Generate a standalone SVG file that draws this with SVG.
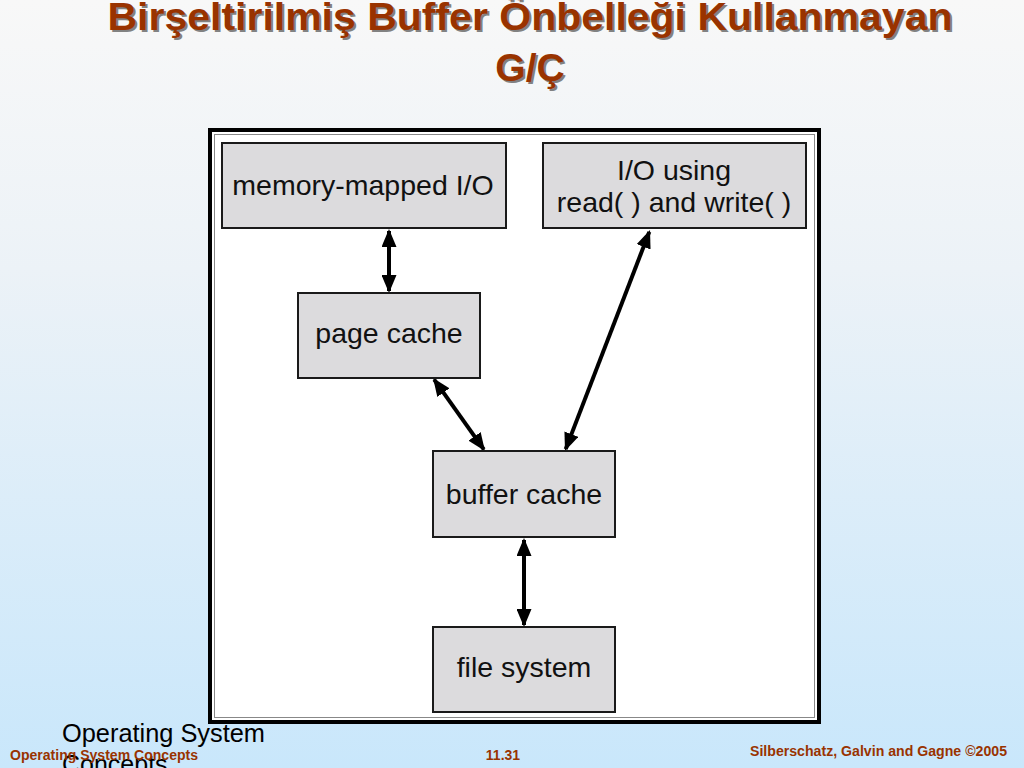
<svg xmlns="http://www.w3.org/2000/svg" width="1024" height="768" viewBox="0 0 1024 768">
<defs>
<linearGradient id="bg" x1="0" y1="0" x2="0" y2="1">
<stop offset="0" stop-color="#f8f8f8"/>
<stop offset="0.35" stop-color="#ecf2f7"/>
<stop offset="1" stop-color="#c9e7fb"/>
</linearGradient>
<marker id="ah" viewBox="0 0 18 15" refX="16" refY="7.5" markerWidth="18" markerHeight="15" markerUnits="userSpaceOnUse" orient="auto-start-reverse">
<path d="M0,0 L18,7.5 L0,15 z" fill="#000"/>
</marker>
</defs>
<style>
.title{font-family:"Liberation Sans",Arial,sans-serif;font-weight:bold;font-size:39px;fill:#993300;text-anchor:middle}
.shadow{fill:#444;opacity:0.65}
.box{fill:#dcdbdd;stroke:#1a1a1a;stroke-width:2}
.lbl{font-family:"Liberation Sans",Arial,sans-serif;font-size:28.5px;fill:#111;text-anchor:middle}
.conn{stroke:#000;stroke-width:4;fill:none;marker-start:url(#ah);marker-end:url(#ah)}
.foot{font-family:"Liberation Sans",Arial,sans-serif;font-weight:bold;font-size:14px;fill:#993300}
.ph{font-family:"Liberation Sans",Arial,sans-serif;font-size:25px;fill:#000}
</style>
<rect x="0" y="0" width="1024" height="768" fill="url(#bg)"/>
<g id="title">
<text class="title shadow" x="532" y="32" textLength="845" lengthAdjust="spacingAndGlyphs">Birşeltirilmiş Buffer Önbelleği Kullanmayan</text>
<text class="title shadow" x="532" y="83">G/Ç</text>
<text class="title" x="530" y="30" textLength="845" lengthAdjust="spacingAndGlyphs">Birşeltirilmiş Buffer Önbelleği Kullanmayan</text>
<text class="title" x="530" y="81">G/Ç</text>
</g>
<g id="frame">
<rect x="210" y="130" width="609" height="592" fill="#fff" stroke="#000" stroke-width="4"/>
<rect x="214.5" y="134.5" width="600" height="583" fill="#fff" stroke="#888" stroke-width="1"/>
</g>
<g id="connectors">
<path class="conn" d="M389,231 L389,291"/>
<path class="conn" d="M434.2,379.6 L483.8,449.4"/>
<path class="conn" d="M649.3,231.9 L565.7,449.1"/>
<path class="conn" d="M524,540 L524,625"/>
</g>
<g id="memory-mapped">
<rect class="box" x="222" y="143" width="284" height="85"/>
<text class="lbl" x="363" y="195">memory-mapped I/O</text>
</g>
<g id="io-read-write">
<rect class="box" x="543" y="143" width="263" height="85"/>
<text class="lbl" x="674" y="180">I/O using</text>
<text class="lbl" x="674" y="212">read( ) and write( )</text>
</g>
<g id="page-cache">
<rect class="box" x="298" y="293" width="182" height="85"/>
<text class="lbl" x="389" y="343">page cache</text>
</g>
<g id="buffer-cache">
<rect class="box" x="433" y="451" width="182" height="86"/>
<text class="lbl" x="524" y="504">buffer cache</text>
</g>
<g id="file-system">
<rect class="box" x="433" y="627" width="182" height="85"/>
<text class="lbl" x="524" y="677">file system</text>
</g>
<g id="footer">
<text class="ph" x="62" y="742" textLength="203" lengthAdjust="spacingAndGlyphs">Operating System</text>
<text class="ph" x="62" y="773">Concepts</text>
<text class="foot" x="10" y="760" textLength="188" lengthAdjust="spacingAndGlyphs">Operating System Concepts</text>
<text class="foot" x="503" y="760" text-anchor="middle">11.31</text>
<text class="foot" x="750" y="756" textLength="257" lengthAdjust="spacingAndGlyphs">Silberschatz, Galvin and Gagne ©2005</text>
</g>
</svg>
